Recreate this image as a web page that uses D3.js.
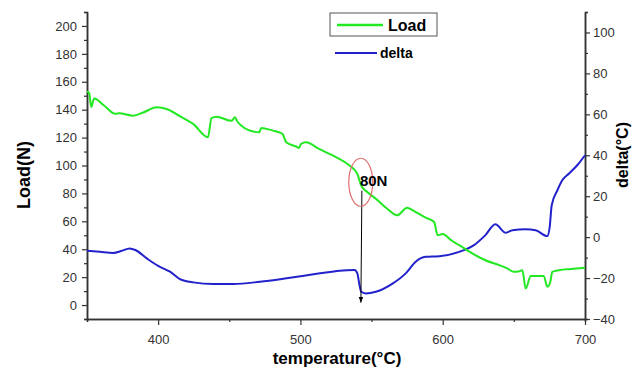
<!DOCTYPE html>
<html>
<head>
<meta charset="utf-8">
<script src="https://cdn.jsdelivr.net/npm/d3@7"></script>
<style>
  body { margin: 0; background: #fff; }
  svg { display: block; font-family: Arial, "Liberation Sans", sans-serif; }
</style>
</head>
<body>
<svg id="chart" width="640" height="372"></svg>
<script>
// Load (left axis)
var loadTemp = [350, 351.5, 353, 355, 362, 370, 372.6, 382.5, 389.5, 399, 406, 415, 424.6, 435, 437.5, 441,
  451.5, 454, 455.5, 466.7, 471, 472.5, 480.7, 485, 487.5, 490, 497, 499, 500.5, 504, 513, 525, 534.5,
  540, 542.7, 547, 553, 561, 568, 575, 579, 587, 594, 596.4, 600, 603.4, 606, 611.6, 621, 630, 639.7,
  645, 650, 653, 656, 658.3, 661.9, 666, 671, 673.5, 675.5, 677, 681.8, 690, 700];
var loadValue = [153, 152, 142, 148, 143, 137, 137.4, 135.7, 138, 141.7, 140.5, 135.5, 129.8, 120.2, 134, 135,
  132, 134.5, 131.7, 124.3, 123.8, 126.9, 125, 123.8, 122.6, 116.6, 113.6, 112.6, 115.5, 116.6, 111.9, 106, 100,
  94, 85.7, 81, 76.2, 69, 64.3, 69.8, 67.9, 63.1, 59.5, 50, 51, 48.8, 46.4, 42.9, 36.9, 32.1, 28.6,
  26.5, 23.8, 24, 25, 11.9, 20.9, 20.9, 20.9, 13.1, 16, 23.8, 25, 25.8, 26.7];

// delta (right axis)
var deltaTemp = [350, 359, 368.5, 374, 380, 384, 392, 400, 408.3, 415.3, 424.7, 438.8, 452.8, 471.6, 490.3, 513.7,
  527.5, 538, 540, 541.5, 542.7, 546, 553, 565, 574, 581, 588, 597.6, 611.6, 622, 630, 637,
  644.4, 649, 658.3, 665.3, 673.5, 675.2, 676.6, 680.6, 684, 688.8, 695, 700];
var deltaValue = [-6.7, -7.2, -7.7, -6.8, -5.5, -6.3, -10.4, -14.1, -16.9, -20.5, -22.1, -22.9, -22.9, -21.8, -20.1, -17.7,
  -16.4, -16.1, -17.7, -23.4, -26.7, -27.5, -26.7, -22.6, -17.7, -12, -9.6, -9.3, -7.2, -3.9, 1, 6.3,
  2.1, 3.4, 3.9, 3.4, 0.5, 5, 15.6, 22.9, 27.8, 31.1, 35.5, 40];

var tempTicks = [400, 500, 600, 700];
var tempMinor = [350, 450, 550, 650];
var loadTicks = [0, 20, 40, 60, 80, 100, 120, 140, 160, 180, 200];
var deltaTicks = [-40, -20, 0, 20, 40, 60, 80, 100];

var svg = d3.select("#chart");
var plotLeft = 87, plotRight = 585, plotTop = 12, plotBottom = 319;

var x = d3.scaleLinear().domain([350, 700]).range([plotLeft, plotRight]);
var yL = d3.scaleLinear().domain([-10, 210]).range([plotBottom, plotTop]);
var yR = d3.scaleLinear().domain([-40, 110]).range([plotBottom, plotTop]);

var axisColor = "#333";

function styleAxis(g) {
  g.selectAll("path").attr("stroke", axisColor).attr("stroke-width", 1.5);
  g.selectAll("line").attr("stroke", axisColor).attr("stroke-width", 1.2);
  g.selectAll("text").attr("fill", "#333").style("font-size", "13px");
}

function minorOf(majors, lo, hi) {
  var out = [];
  for (var v = lo; v <= hi; v += 10) {
    if (majors.indexOf(v) < 0) out.push(v);
  }
  return out;
}

// bottom axis
svg.append("g").attr("transform", "translate(0," + plotBottom + ")")
  .call(d3.axisBottom(x).tickValues(tempMinor).tickSize(3).tickFormat(""))
  .call(styleAxis);
svg.append("g").attr("transform", "translate(0," + plotBottom + ")")
  .call(d3.axisBottom(x).tickValues(tempTicks).tickSize(6).tickSizeOuter(0).tickPadding(10))
  .call(styleAxis);

// left axis
svg.append("g").attr("transform", "translate(" + plotLeft + ",0)")
  .call(d3.axisLeft(yL).tickValues(minorOf(loadTicks, -10, 210)).tickSize(3).tickFormat(""))
  .call(styleAxis);
svg.append("g").attr("transform", "translate(" + plotLeft + ",0)")
  .call(d3.axisLeft(yL).tickValues(loadTicks).tickSize(5).tickSizeOuter(0).tickPadding(5))
  .call(styleAxis);

// right axis
svg.append("g").attr("transform", "translate(" + plotRight + ",0)")
  .call(d3.axisRight(yR).tickValues(minorOf(deltaTicks, -30, 110)).tickSize(3).tickFormat(""))
  .call(styleAxis);
svg.append("g").attr("transform", "translate(" + plotRight + ",0)")
  .call(d3.axisRight(yR).tickValues(deltaTicks).tickSize(5).tickSizeOuter(0).tickPadding(3))
  .call(styleAxis);

// lines
var loadData = loadTemp.map(function(t, i) { return [t, loadValue[i]]; });
var deltaData = deltaTemp.map(function(t, i) { return [t, deltaValue[i]]; });

var loadLine = d3.line().x(function(d) { return x(d[0]); }).y(function(d) { return yL(d[1]); })
  .curve(d3.curveMonotoneX);
var deltaLine = d3.line().x(function(d) { return x(d[0]); }).y(function(d) { return yR(d[1]); })
  .curve(d3.curveMonotoneX);

var green = "#22e822", blue = "#2222cc";

svg.append("path").datum(deltaData).attr("d", deltaLine)
  .attr("fill", "none").attr("stroke", blue).attr("stroke-width", 2);
svg.append("path").datum(loadData).attr("d", loadLine)
  .attr("fill", "none").attr("stroke", green).attr("stroke-width", 2);

// axis titles
svg.append("text").attr("transform", "translate(30,175) rotate(-90)")
  .attr("text-anchor", "middle").style("font-size", "18px").style("font-weight", "bold")
  .text("Load(N)");
svg.append("text").attr("transform", "translate(628,155) rotate(-90)")
  .attr("text-anchor", "middle").style("font-size", "16px").style("font-weight", "bold")
  .text("delta(°C)");
svg.append("text").attr("x", 337).attr("y", 364)
  .attr("text-anchor", "middle").style("font-size", "17px").style("font-weight", "bold")
  .text("temperature(°C)");

// legend
svg.append("rect").attr("x", 330).attr("y", 13).attr("width", 107).attr("height", 23)
  .attr("fill", "#fff").attr("stroke", "#555").attr("stroke-width", 1);
svg.append("line").attr("x1", 337).attr("x2", 383).attr("y1", 25).attr("y2", 25)
  .attr("stroke", green).attr("stroke-width", 2.5);
svg.append("text").attr("x", 388).attr("y", 31).style("font-size", "16px").style("font-weight", "bold")
  .text("Load");
svg.append("line").attr("x1", 335).attr("x2", 377).attr("y1", 53).attr("y2", 53)
  .attr("stroke", blue).attr("stroke-width", 2);
svg.append("text").attr("x", 380).attr("y", 58).style("font-size", "14px").style("font-weight", "bold")
  .text("delta");

// annotation at the 80N drop
var annoTemp = 542.5;
svg.append("defs").append("marker").attr("id", "arrow")
  .attr("viewBox", "0 0 10 10").attr("refX", 10).attr("refY", 5)
  .attr("markerWidth", 6).attr("markerHeight", 6).attr("orient", "auto")
  .append("path").attr("d", "M0,1 L10,5 L0,9 z").attr("fill", "#000");
svg.append("line").attr("x1", x(annoTemp) + 1).attr("y1", yL(82))
  .attr("x2", x(annoTemp)).attr("y2", yR(-32))
  .attr("stroke", "#000").attr("stroke-width", 1).attr("marker-end", "url(#arrow)");
svg.append("ellipse").attr("cx", x(542.4)).attr("cy", yL(88)).attr("rx", 12).attr("ry", 24)
  .attr("fill", "none").attr("stroke", "#e07070").attr("stroke-width", 1.2);
svg.append("text").attr("x", x(annoTemp) - 1).attr("y", yL(85.5)).style("font-size", "15px")
  .style("font-weight", "bold").text("80N");
</script>
</body>
</html>
